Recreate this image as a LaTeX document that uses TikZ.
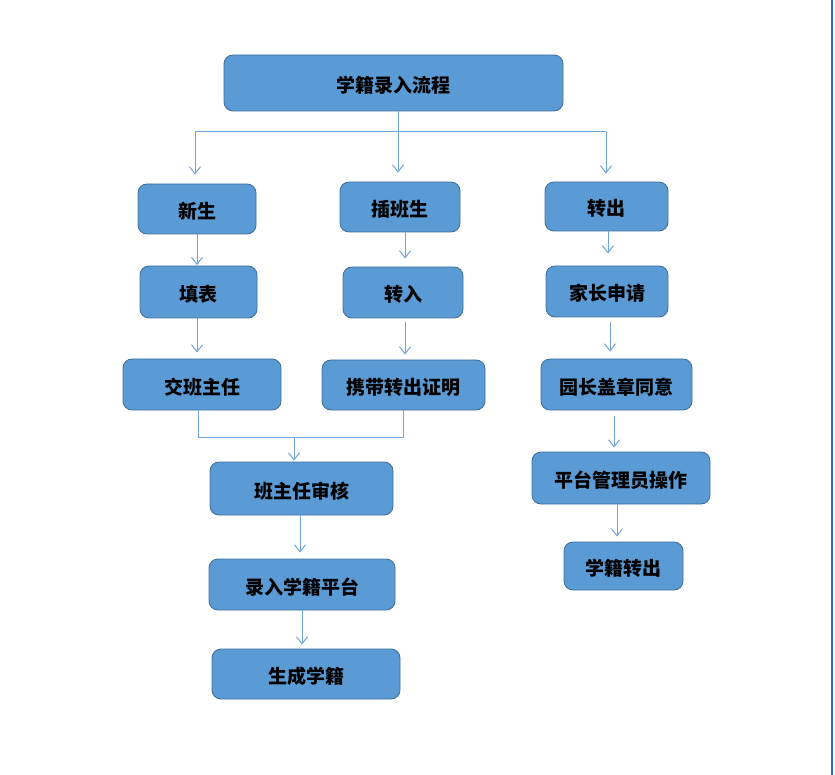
\documentclass[tikz,border=0pt]{standalone}
\usepackage{fontspec}
\newfontfamily\cjk{Noto Sans CJK SC}
\usetikzlibrary{arrows.meta}
\definecolor{boxfill}{HTML}{5B9BD5}
\definecolor{boxline}{HTML}{41719C}
\definecolor{linkblue}{HTML}{6FA5DA}
\definecolor{pageedge}{HTML}{2A6BD6}

\begin{document}
\begin{tikzpicture}[x=1pt,y=-1pt,
    stepbox/.style={draw=boxline,fill=boxfill,line width=0.9pt,rounded corners=9pt,
      inner sep=0pt,text height=21pt,text depth=2pt,
      font=\cjk\bfseries\fontsize{19}{22}\selectfont},
    link/.style={draw=linkblue,line width=1pt},
    arr/.style={link,-{Straight Barb[length=7pt,width=11pt]}}]
        \useasboundingbox (0,0) rectangle (835,775);
        \draw [pageedge,line width=1.6pt] (832,0) -- (832,775);

        \node [stepbox,minimum width=339pt,minimum height=56pt] (title) at (393.5,83) {学籍录入流程};

        \node [stepbox,minimum width=118pt,minimum height=50pt] (new) at (197,209) {新生};
        \node [stepbox,minimum width=120pt,minimum height=50pt] (ins) at (400,207) {插班生};
        \node [stepbox,minimum width=123pt,minimum height=49pt] (out) at (606.5,206.5) {转出};

        \node [stepbox,minimum width=117pt,minimum height=52pt] (form) at (198.5,292) {填表};
        \node [stepbox,minimum width=120pt,minimum height=51pt] (in) at (403,292.5) {转入};
        \node [stepbox,minimum width=122pt,minimum height=51pt] (parent) at (607,291.5) {家长申请};

        \node [stepbox,minimum width=158pt,minimum height=51pt] (hand) at (202,384.5) {交班主任};
        \node [stepbox,minimum width=163pt,minimum height=50pt] (cert) at (403.5,385) {携带转出证明};
        \node [stepbox,minimum width=151pt,minimum height=51pt] (head) at (616.5,384.5) {园长盖章同意};

        \node [stepbox,minimum width=183pt,minimum height=53pt] (check) at (301.5,488.5) {班主任审核};
        \node [stepbox,minimum width=178pt,minimum height=52pt] (admin) at (621,478) {平台管理员操作};

        \node [stepbox,minimum width=186pt,minimum height=51pt] (enter) at (302,584.5) {录入学籍平台};
        \node [stepbox,minimum width=119pt,minimum height=48pt] (leave) at (623.5,566) {学籍转出};

        \node [stepbox,minimum width=188pt,minimum height=50pt] (make) at (306,674) {生成学籍};

        \coordinate (bl) at (195,132);
        \coordinate (br) at (606,132);
        \coordinate (ml) at (198,437);
        \coordinate (mr) at (403,437);
        \coordinate (mm) at (294,437);

        \draw [link] (bl) -- (br);
        \draw [arr,shorten >=9pt] (bl) -- (bl |- new.north);
        \draw [arr,shorten >=9pt] (title.south -| 398,0) -- (ins.north -| 398,0);
        \draw [arr,shorten >=8pt] (br) -- (br |- out.north);

        \draw [arr,shorten >=0.5pt] (new.south) -- (new.south |- form.north);
        \draw [arr,shorten >=6pt] (new.south |- form.south) -- (new.south |- hand.north);
        \draw [arr,shorten >=8pt] (ins.south -| 405,0) -- (in.north -| 405,0);
        \draw [arr,shorten <=4pt,shorten >=5pt] (in.south -| 405,0) -- (cert.north -| 405,0);

        \draw [arr,shorten >=12pt] (out.south -| 608,0) -- (parent.north -| 608,0);
        \draw [arr,shorten <=5pt,shorten >=7pt] (parent.south -| 610,0) -- (head.north -| 610,0);
        \draw [arr,shorten <=6pt,shorten >=4pt] (head.south -| 614,0) -- (admin.north -| 614,0);
        \draw [arr,shorten >=5pt] (admin.south -| 617,0) -- (leave.north -| 617,0);

        \draw [link] (ml |- hand.south) -- (ml) -- (mr) -- (mr |- cert.south);
        \draw [arr,shorten >=1pt] (mm) -- (mm |- check.north);
        \draw [arr,shorten >=6pt] (check.south -| 300,0) -- (enter.north -| 300,0);
        \draw [arr,shorten >=4pt] (enter.south -| 302,0) -- (make.north -| 302,0);
      \end{tikzpicture}
\end{document}
